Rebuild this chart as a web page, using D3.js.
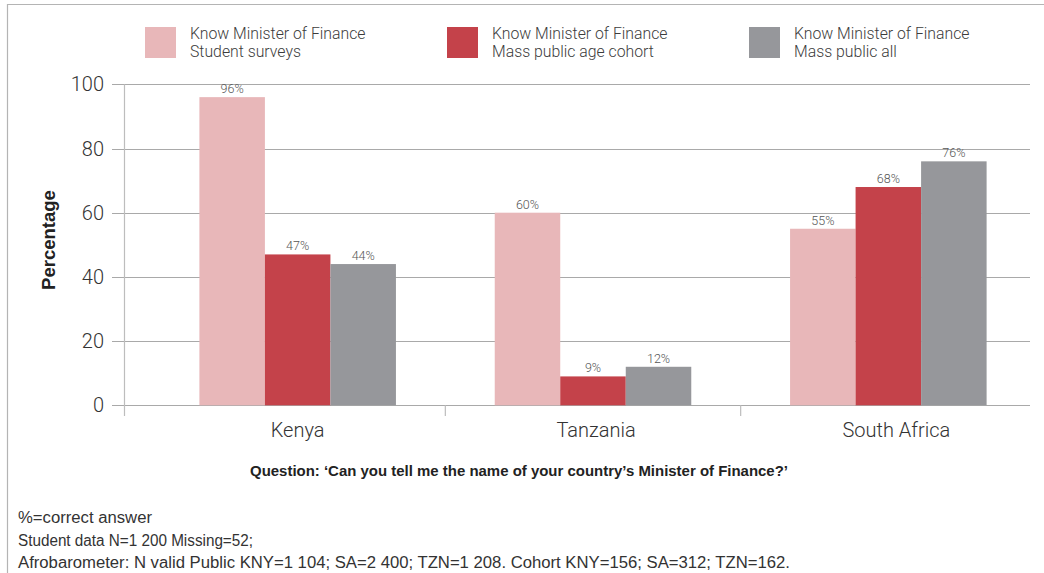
<!DOCTYPE html>
<html>
<head>
<meta charset="utf-8">
<script src="https://cdn.jsdelivr.net/npm/d3@7/dist/d3.min.js"></script>
<style>
  html, body { margin: 0; padding: 0; background: #fff; }
  svg { display: block; font-family: Roboto, "Liberation Sans", sans-serif; }
</style>
</head>
<body>
<svg id="chart" width="1044" height="573"></svg>
<script>
// Data
const categories = ["Kenya", "Tanzania", "South Africa"];
const seriesKeys = ["student", "cohort", "public"];
const seriesLine1 = ["Know Minister of Finance", "Know Minister of Finance", "Know Minister of Finance"];
const seriesLine2 = ["Student surveys", "Mass public age cohort", "Mass public all"];
const studentValues = [96, 60, 55];
const cohortValues = [47, 9, 68];
const publicValues = [44, 12, 76];
const yTicks = [0, 20, 40, 60, 80, 100];
const seriesColors = ["#e8b7b9", "#c4424a", "#96979b"];
const questionText = "Question: \u2018Can you tell me the name of your country\u2019s Minister of Finance?\u2019";
const notes = [
  "%=correct answer",
  "Student data N=1 200 Missing=52;",
  "Afrobarometer: N valid Public KNY=1 104; SA=2 400; TZN=1 208. Cohort KNY=156; SA=312; TZN=162."
];

const valuesBySeries = [studentValues, cohortValues, publicValues];

const svg = d3.select("#chart");

// Frame
svg.append("path")
  .attr("d", "M7.5,573 L7.5,4.5 L1044,4.5")
  .attr("fill", "none")
  .attr("stroke", "#b4b4b4")
  .attr("stroke-width", 1.2);

// Scales
const y = d3.scaleLinear().domain([0, 100]).range([405.3, 84.3]);
const x0 = d3.scaleBand().domain(categories).range([150, 1036]).padding(0);
const x1 = d3.scaleBand().domain(seriesKeys).range([0, x0.bandwidth()])
  .paddingInner(0).paddingOuter(0.754);

const gridLeft = 112, gridRight = 1030, axisX = 124;

// Gridlines and y tick labels
const yg = svg.append("g");
yg.selectAll("line.grid").data(yTicks).join("line")
  .attr("class", "grid")
  .attr("x1", gridLeft).attr("x2", gridRight)
  .attr("y1", d => Math.round(y(d)) + 0.5).attr("y2", d => Math.round(y(d)) + 0.5)
  .attr("stroke", "#a9a9a9").attr("stroke-width", 1.2);
yg.selectAll("text").data(yTicks).join("text")
  .attr("x", 104).attr("y", d => y(d) + 7)
  .attr("text-anchor", "end")
  .attr("font-size", 20).attr("font-weight", 300)
  .attr("fill", "#333")
  .text(d => d);

// Y axis line
svg.append("line")
  .attr("x1", axisX + 0.5).attr("x2", axisX + 0.5)
  .attr("y1", y(100)).attr("y2", 416)
  .attr("stroke", "#bdbdbd").attr("stroke-width", 1.2);

// Category separator ticks
const seps = categories.slice(1).map(c => x0(c));
svg.selectAll("line.sep").data(seps).join("line")
  .attr("class", "sep")
  .attr("x1", d => d).attr("x2", d => d)
  .attr("y1", y(0)).attr("y2", 416)
  .attr("stroke", "#bdbdbd").attr("stroke-width", 1.2);

// Bars
const groups = svg.append("g").selectAll("g").data(categories).join("g")
  .attr("transform", c => `translate(${x0(c)},0)`);

groups.each(function(c, ci) {
  const g = d3.select(this);
  const rows = seriesKeys.map((k, si) => ({ key: k, value: valuesBySeries[si][ci], color: seriesColors[si] }));
  g.selectAll("rect").data(rows).join("rect")
    .attr("x", d => x1(d.key))
    .attr("y", d => y(d.value))
    .attr("width", x1.bandwidth())
    .attr("height", d => y(0) - y(d.value))
    .attr("fill", d => d.color);
  g.selectAll("text").data(rows).join("text")
    .attr("x", d => x1(d.key) + x1.bandwidth() / 2)
    .attr("y", d => y(d.value) - 4)
    .attr("text-anchor", "middle")
    .attr("font-size", 12.5).attr("font-weight", 300)
    .attr("fill", "#555")
    .text(d => d.value + "%");
});

// Category labels
svg.selectAll("text.cat").data(categories).join("text")
  .attr("class", "cat")
  .attr("x", (c, i) => x0(c) + x0.bandwidth() / 2 + [0, 3, 8][i])
  .attr("y", 437)
  .attr("text-anchor", "middle")
  .attr("font-size", 20).attr("font-weight", 300)
  .attr("fill", "#333")
  .text(c => c);

// Y axis title
svg.append("text")
  .attr("transform", "translate(55,240) rotate(-90)")
  .attr("text-anchor", "middle")
  .attr("font-size", 18.5).attr("font-weight", 700)
  .attr("font-family", "'Liberation Sans', Arial, sans-serif")
  .attr("fill", "#222")
  .text("Percentage");

// Legend
const legendX = [145, 447, 749];
const leg = svg.append("g").selectAll("g").data(seriesKeys).join("g")
  .attr("transform", (d, i) => `translate(${legendX[i]},27)`);
leg.append("rect").attr("width", 31).attr("height", 31)
  .attr("fill", (d, i) => seriesColors[i]);
leg.append("text").attr("x", 45).attr("y", 11.5)
  .attr("font-size", 15.8).attr("font-weight", 300).attr("fill", "#3c3c3c")
  .text((d, i) => seriesLine1[i]);
leg.append("text").attr("x", 45).attr("y", 30)
  .attr("font-size", 15.8).attr("font-weight", 300).attr("fill", "#3c3c3c")
  .text((d, i) => seriesLine2[i]);

// Question caption (condensed bold)
svg.append("text")
  .attr("x", 250).attr("y", 476)
  .attr("font-family", "'Liberation Sans', Arial, sans-serif")
  .attr("font-size", 15).attr("font-weight", 700)
  .attr("fill", "#222")
  .attr("textLength", 538).attr("lengthAdjust", "spacingAndGlyphs")
  .text(questionText);

// Notes (condensed)
const noteWidths = [134, 235, 772];
svg.selectAll("text.note").data(notes).join("text")
  .attr("class", "note")
  .attr("x", 18)
  .attr("y", (d, i) => 523 + i * 22.5)
  .attr("font-family", "'Liberation Sans', Arial, sans-serif")
  .attr("font-size", 16)
  .attr("fill", "#333")
  .attr("textLength", (d, i) => noteWidths[i]).attr("lengthAdjust", "spacingAndGlyphs")
  .text(d => d);
</script>
</body>
</html>
